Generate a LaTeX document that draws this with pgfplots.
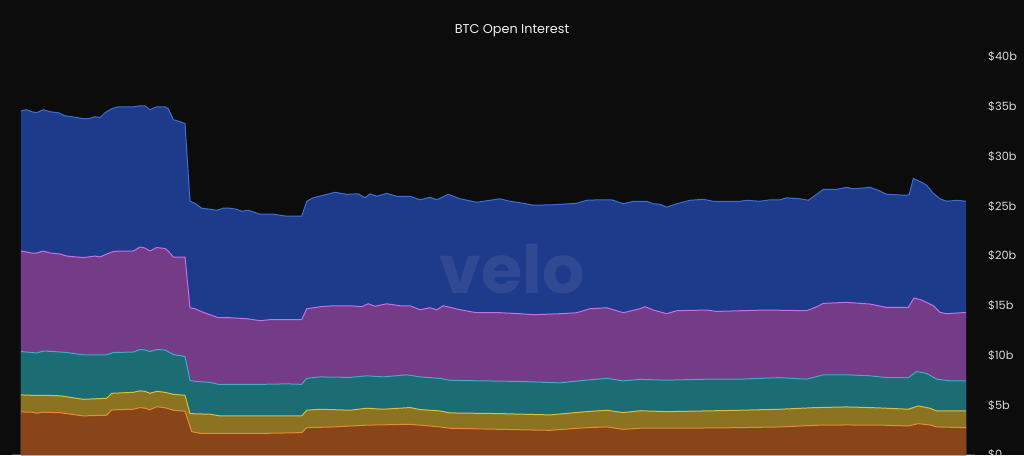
\documentclass[border=0pt]{standalone}
\usepackage{fontspec}
\setmainfont{Poppins}
\usepackage{pgfplots}
\pgfplotsset{compat=1.18}
\usepackage{pgfplotstable}

\definecolor{bg}{HTML}{0C0C0C}
\definecolor{tickgray}{HTML}{D8D8D8}
\definecolor{blueF}{HTML}{1E3A8A}
\definecolor{blueL}{HTML}{3B6FD8}
\definecolor{purpF}{HTML}{743C86}
\definecolor{purpL}{HTML}{C86EE8}
\definecolor{tealF}{HTML}{1B6C73}
\definecolor{tealL}{HTML}{34B0C8}
\definecolor{goldF}{HTML}{8C7322}
\definecolor{goldL}{HTML}{DDBE3A}
\definecolor{orngF}{HTML}{884519}
\definecolor{orngL}{HTML}{EC8A34}

% cumulative tops of each layer ($b), x in chart pixels
\pgfplotstableread{
x y
21 34.6
26.7 34.7
31.7 34.5
36.7 34.4
43.3 34.7
50 34.5
58.3 34.4
65 34.1
71.7 34.0
83.3 33.8
88.3 33.8
95 34.0
100 33.9
105 34.4
111.7 34.8
118.3 35.0
133.3 35.0
140 35.1
145 35.1
150 34.7
156.7 35.0
165 35.0
168.3 34.8
173.3 33.7
180 33.5
185 33.3
190 25.5
195 25.3
201.7 24.8
210 24.7
216.7 24.6
223.3 24.8
230 24.8
236.7 24.7
241.7 24.5
248.3 24.6
260 24.2
273.3 24.2
286.7 24.0
301.7 24.0
306.7 25.5
313.3 25.85
323.3 26.1
335 26.4
346.7 26.2
358.3 26.25
365 25.85
370 26.25
376.7 26.0
386.7 26.3
396.7 26.0
410 26.0
420 25.65
430 25.9
436.7 25.65
448.3 26.2
460 25.75
476.7 25.4
490 25.6
500 25.75
510 25.5
523.3 25.3
533.3 25.1
553.3 25.15
576.7 25.3
586.7 25.6
600 25.65
611.7 25.65
623.3 25.25
633.3 25.5
646.7 25.5
653.3 25.25
660 25.2
666.7 24.9
676.7 25.25
690 25.6
703.3 25.7
713.3 25.5
740 25.5
746.7 25.6
760 25.5
770 25.65
780 25.65
786.7 25.85
800 25.75
808.3 25.6
816.7 26.2
823.3 26.7
836.7 26.7
846.7 26.9
853.3 26.75
870 26.9
878.3 26.6
886.7 26.2
906.7 26.1
909.3 26.2
913.3 27.8
921.7 27.4
926.7 27.1
933.3 26.3
940 25.75
946.7 25.5
956.7 25.6
966 25.5
}\blueT

\pgfplotstableread{
x y
21 20.5
26.7 20.4
31.7 20.3
36.7 20.3
43.3 20.5
50 20.3
60 20.2
66.7 20.0
76.7 19.9
83.3 19.85
88.3 19.9
95 20.0
100 19.9
106.7 20.2
113.3 20.45
120 20.5
133.3 20.5
140 20.9
145 20.8
150 20.5
156.7 20.85
165 20.75
168.3 20.5
173.3 19.9
185 19.9
190 14.8
195 14.7
201.7 14.4
210 14.1
218.3 13.8
230 13.8
246.7 13.7
260 13.5
270 13.6
286.7 13.6
301.7 13.6
306.7 14.7
320 14.9
333.3 15.0
350 15.0
361.7 14.9
368.3 15.2
375 14.95
386.7 15.2
400 15.0
410 15.0
420 14.6
430 14.8
436.7 14.6
443.3 15.0
460 14.6
476.7 14.3
500 14.3
520 14.2
533.3 14.1
560 14.2
576.7 14.3
590 14.7
606.7 14.8
623.3 14.3
640 14.7
645 14.9
653.3 14.57
666.7 14.2
676.7 14.5
706.7 14.57
716.7 14.43
740 14.5
766.7 14.57
806.7 14.5
816.7 14.9
823.3 15.24
846.7 15.34
870 15.17
886.7 14.83
908.3 14.83
914 15.78
921.7 15.57
933.3 15.0
940 14.33
946.7 14.2
966 14.33
}\purpT

\pgfplotstableread{
x y
21 10.4
31.7 10.3
36.7 10.25
43.3 10.45
53.3 10.4
66.7 10.3
83.3 10.07
106.7 10.07
113.3 10.3
133.3 10.35
140 10.6
145 10.55
150 10.4
156.7 10.6
165 10.55
173.3 10.1
185 9.9
190 7.5
195 7.4
210 7.3
218.3 7.1
260 7.1
286.7 7.15
301.7 7.1
306.7 7.7
320 7.85
350 7.8
366.7 7.96
383.3 7.85
406.7 8.06
420 7.85
440 7.7
450 7.5
483.3 7.45
516.7 7.4
560 7.25
583.3 7.5
606.7 7.7
623.3 7.45
640 7.6
666.7 7.52
706.7 7.62
740 7.62
780 7.78
806.7 7.62
823.3 8.06
846.7 8.06
870 7.96
886.7 7.78
908.3 7.78
916.7 8.39
926.7 8.19
936.7 7.62
950 7.45
966 7.45
}\tealT

\pgfplotstableread{
x y
21 6.04
31.7 6.0
43.3 6.0
60 5.95
83.3 5.6
106.7 5.7
111.7 6.2
133.3 6.3
140 6.45
145 6.4
150 6.2
156.7 6.4
165 6.3
173.3 6.1
185 6.0
190 4.16
210 4.1
220 3.93
260 3.93
301.7 3.93
306.7 4.5
320 4.6
350 4.5
366.7 4.7
383.3 4.6
410 4.77
420 4.57
440 4.43
450 4.23
500 4.16
550 4.03
586.7 4.36
606.7 4.5
623.3 4.26
640 4.45
666.7 4.36
706.7 4.43
740 4.5
780 4.6
816.7 4.77
846.7 4.83
870 4.77
886.7 4.7
908.3 4.6
918.3 4.93
930 4.7
936.7 4.43
966 4.43
}\goldT

\pgfplotstableread{
x y
21 4.33
31.7 4.3
36.7 4.2
43.3 4.3
60 4.25
83.3 3.93
106.7 4.0
111.7 4.53
133.3 4.6
140 4.77
145 4.7
150 4.55
156.7 4.85
165 4.75
173.3 4.5
185 4.4
191.7 2.35
200 2.18
220 2.18
266.7 2.18
301.7 2.25
306.7 2.75
333.3 2.82
366.7 3.0
410 3.09
440 2.82
450 2.69
500 2.58
550 2.48
586.7 2.75
606.7 2.82
623.3 2.58
640 2.69
680 2.69
740 2.75
780 2.82
816.7 2.99
846.7 3.02
886.7 2.99
908.3 2.92
918.3 3.15
930 3.02
936.7 2.82
966 2.75
}\orngT

\begin{document}
\begin{tikzpicture}[x=0.75pt,y=0.75pt]
\fill[bg] (0,0) rectangle (1024,455);
\useasboundingbox (0,0) rectangle (1024,455);
\draw[color=black!75!white, line width=0.6pt] (12,0.4) -- (975,0.4);
\node[text=white!94!black, font=\fontsize{9.6}{11}\selectfont] at (512,424) {BTC Open Interest};
\begin{axis}[
    at={(15.75pt,0pt)}, anchor=south west,
    scale only axis,
    width=708.75pt, height=298.5pt,
    xmin=21, xmax=966,
    ymin=0, ymax=40,
    axis line style={draw=none},
    tick style={draw=none},
    xtick=\empty,
    ytick={0,5,10,15,20,25,30,35,40},
    yticklabels={\$0,\$5b,\$10b,\$15b,\$20b,\$25b,\$30b,\$35b,\$40b},
    yticklabel pos=right,
    yticklabel style={anchor=west, xshift=13pt, text=tickgray, font=\fontsize{8.5}{10}\selectfont},
]
\addplot[fill=blueF, draw=none] table {\blueT} \closedcycle;
\addplot[blueL, line width=0.75pt] table {\blueT};
\addplot[fill=purpF, draw=none] table {\purpT} \closedcycle;
\addplot[purpL, line width=0.75pt] table {\purpT};
\addplot[fill=tealF, draw=none] table {\tealT} \closedcycle;
\addplot[tealL, line width=0.75pt] table {\tealT};
\addplot[fill=goldF, draw=none] table {\goldT} \closedcycle;
\addplot[goldL, line width=0.75pt] table {\goldT};
\addplot[fill=orngF, draw=none] table {\orngT} \closedcycle;
\addplot[orngL, line width=0.75pt] table {\orngT};
\end{axis}
\node[anchor=base, text=white, opacity=0.08, font=\bfseries\fontsize{50}{50}\selectfont] at (512,161.7) {velo};
\end{tikzpicture}
\end{document}
